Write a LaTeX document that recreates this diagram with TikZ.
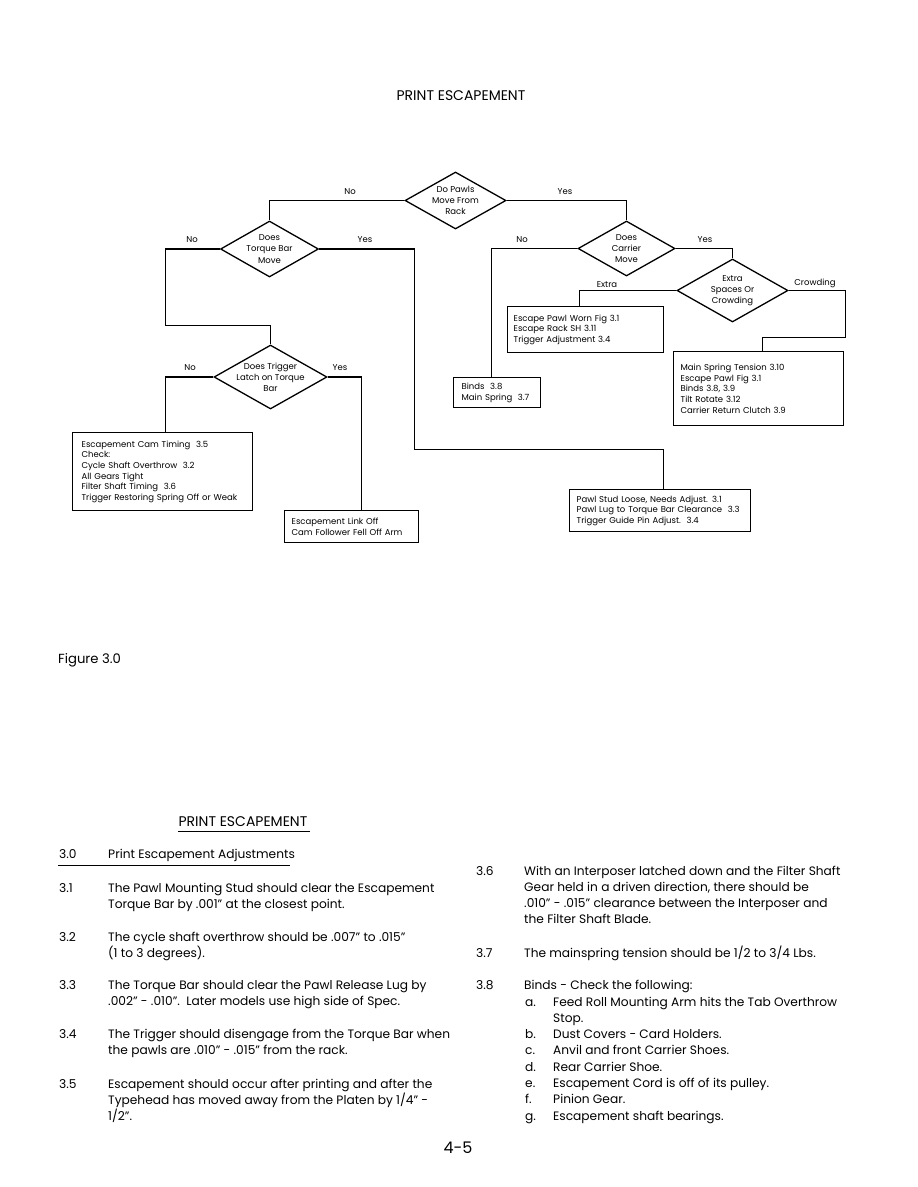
\documentclass[tikz,border=0pt]{standalone}
\usepackage{fontspec}
\setmainfont{Poppins}
\usetikzlibrary{shapes.geometric}

\newcommand\flowsize{\fontsize{8.5}{10.6}\selectfont}
\newcommand\asksize{\fontsize{8.5}{11.2}\selectfont}
\newcommand\bodysize{\fontsize{12.2}{16.3}\selectfont}
\newcommand\paralines[1]{\begin{tabular}[t]{@{}l@{}}#1\end{tabular}}

\begin{document}
\begin{tikzpicture}[x=1pt,y=-1pt,
  decision/.style={draw, diamond, aspect=1.8, line width=1.3pt, inner xsep=-20pt, inner ysep=-10pt, align=center, font=\asksize},
  answer/.style={draw, rectangle, line width=1.3pt, anchor=north west, align=left, inner ysep=0pt, font=\flowsize},
  branch/.style={font=\flowsize, inner sep=0pt},
  link/.style={line width=1.3pt},
  para/.style={anchor=base west, inner sep=0pt, font=\bodysize}]
  \fill[white] (0,0) rectangle (918,1187);
  \useasboundingbox (0,0) rectangle (918,1187);

  \node[font=\fontsize{14}{16}\selectfont] (title) at (461,96) {PRINT ESCAPEMENT};

  % decisions
  \node[decision, minimum width=101pt, minimum height=57pt] (pawls) at (455.5,200.5) {Do Pawls\\Move From\\Rack};
  \node[decision, minimum width=98pt, minimum height=56pt] (torque) at (269.5,249) {Does\\Torque Bar\\Move};
  \node[decision, minimum width=97pt, minimum height=55pt] (carrier) at (626.5,248.5) {Does\\Carrier\\Move};
  \node[decision, minimum width=111pt, minimum height=63pt] (spaces) at (732.5,290.5) {Extra\\Spaces Or\\Crowding};
  \node[decision, minimum width=113pt, minimum height=64pt] (trigger) at (270.5,377) {Does Trigger\\Latch on Torque\\Bar};

  % answers
  \node[answer, inner xsep=9pt, text width=162pt, minimum height=78pt] (cambox) at (72,432)
    {Escapement Cam Timing\ \ 3.5\\Check:\\Cycle Shaft Overthrow\ \ 3.2\\All Gears Tight\\Filter Shaft Timing\ \ 3.6\\Trigger Restoring Spring Off or Weak};
  \node[answer, inner xsep=7pt, text width=120pt, minimum height=32pt] (linkbox) at (284,510)
    {Escapement Link Off\\Cam Follower Fell Off Arm};
  \node[answer, inner xsep=8pt, text width=71pt, minimum height=30pt] (bindbox) at (453,377)
    {Binds\ \ 3.8\\Main Spring\ \ 3.7};
  \node[answer, inner xsep=6pt, text width=144pt, minimum height=46pt] (escbox) at (507,306)
    {Escape Pawl Worn Fig 3.1\\Escape Rack SH 3.11\\Trigger Adjustment 3.4};
  \node[answer, inner xsep=7pt, text width=156pt, minimum height=74pt] (mainbox) at (673,351)
    {Main Spring Tension 3.10\\Escape Pawl Fig 3.1\\Binds 3.8, 3.9\\Tilt Rotate 3.12\\Carrier Return Clutch 3.9};
  \node[answer, inner xsep=7pt, text width=167pt, minimum height=42pt] (pawlbox) at (569,489)
    {Pawl Stud Loose, Needs Adjust. 3.1\\Pawl Lug to Torque Bar Clearance\ \ 3.3\\Trigger Guide Pin Adjust.\ \ 3.4};

  \coordinate (tbturn) at (165.5,325.5);
  \coordinate (tbyes) at (414.5,449.5);
  \coordinate (crturn) at (845.5,337.5);

  % connectors
  \draw[link] (pawls.west) -| (torque.north);
  \draw[link] (pawls.east) -| (carrier.north);
  \draw[link] (torque.west) -| (tbturn) -| (trigger.north);
  \draw[link] (torque.east) -| (tbyes) -| ([xshift=3pt]pawlbox.north);
  \draw[link] (carrier.west) -| ([xshift=-6pt]bindbox.north);
  \draw[link] (carrier.east) -| (spaces.north);
  \draw[link] (spaces.west) -| ([xshift=-6pt]escbox.north);
  \draw[link] (spaces.east) -| (crturn) -| ([xshift=4pt]mainbox.north);
  \draw[link] (trigger.west) -| ([xshift=3pt]cambox.north);
  \draw[link] (trigger.east) -| ([xshift=10pt]linkbox.north);

  \node[branch] (pawlsno) at (350,192) {No};
  \node[branch] (pawlsyes) at (565,192) {Yes};
  \node[branch] (torqueno) at (192,240) {No};
  \node[branch] (torqueyes) at (365,240) {Yes};
  \node[branch] (carrierno) at (522,240) {No};
  \node[branch] (carrieryes) at (705,240) {Yes};
  \node[branch] (extra) at (607,285) {Extra};
  \node[branch] (crowding) at (815,283) {Crowding};
  \node[branch] (triggerno) at (190,368) {No};
  \node[branch] (triggeryes) at (340,368) {Yes};

  \node[font=\fontsize{13.2}{15}\selectfont, anchor=west, inner sep=0pt] (figure) at (58,660) {Figure 3.0};

  % adjustments text
  \node[font=\fontsize{14}{16}\selectfont, inner sep=0pt] (section) at (243,822) {PRINT ESCAPEMENT};
  \draw[line width=0.8pt] (178,831) -- (310,831);
  \node[para] (n30) at (59,858) {3.0};
  \node[para] (t30) at (108,858) {Print Escapement Adjustments};
  \draw[line width=0.8pt] (58,865) -- (290,865);

  \node[para] (n31) at (59,892) {3.1};
  \node[para] (t31) at (108,892) {\paralines{The Pawl Mounting Stud should clear the Escapement\\Torque Bar by .001" at the closest point.}};
  \node[para] (n32) at (59,941) {3.2};
  \node[para] (t32) at (108,941) {\paralines{The cycle shaft overthrow should be .007" to .015"\\(1 to 3 degrees).}};
  \node[para] (n33) at (59,989) {3.3};
  \node[para] (t33) at (108,989) {\paralines{The Torque Bar should clear the Pawl Release Lug by\\.002" - .010".\ \ Later models use high side of Spec.}};
  \node[para] (n34) at (59,1038) {3.4};
  \node[para] (t34) at (108,1038) {\paralines{The Trigger should disengage from the Torque Bar when\\the pawls are .010" - .015" from the rack.}};
  \node[para] (n35) at (59,1088) {3.5};
  \node[para] (t35) at (108,1088) {\paralines{Escapement should occur after printing and after the\\Typehead has moved away from the Platen by 1/4" -\\1/2".}};

  \node[para] (n36) at (476,875) {3.6};
  \node[para] (t36) at (524,875) {\paralines{With an Interposer latched down and the Filter Shaft\\Gear held in a driven direction, there should be\\.010" - .015" clearance between the Interposer and\\the Filter Shaft Blade.}};
  \node[para] (n37) at (476,957) {3.7};
  \node[para] (t37) at (524,957) {The mainspring tension should be 1/2 to 3/4 Lbs.};
  \node[para] (n38) at (476,989) {3.8};
  \node[para] (t38) at (524,989) {Binds - Check the following:};
  \node[para] (letters) at (525,1006) {\paralines{a.\\\mbox{}\\b.\\c.\\d.\\e.\\f.\\g.}};
  \node[para] (items) at (553,1006) {\paralines{Feed Roll Mounting Arm hits the Tab Overthrow\\Stop.\\Dust Covers - Card Holders.\\Anvil and front Carrier Shoes.\\Rear Carrier Shoe.\\Escapement Cord is off of its pulley.\\Pinion Gear.\\Escapement shaft bearings.}};

  \node[font=\fontsize{16}{18}\selectfont] (page) at (458,1148) {4-5};
\end{tikzpicture}
\end{document}
